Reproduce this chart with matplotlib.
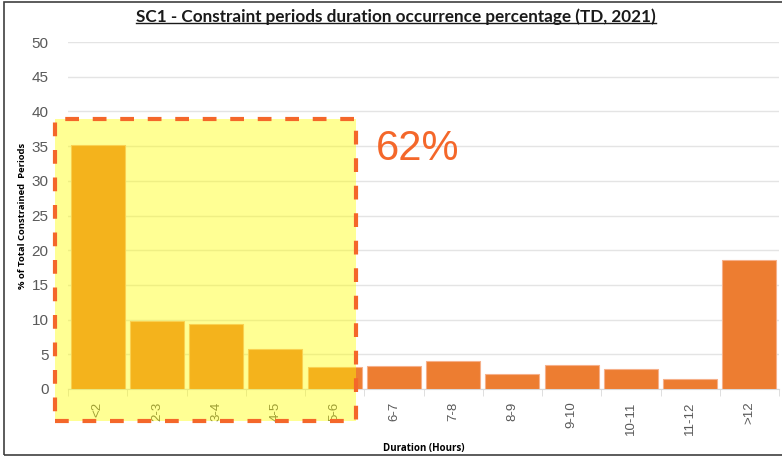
import matplotlib
matplotlib.use("Agg")
import matplotlib.pyplot as plt
import matplotlib.patches as mpatches
from matplotlib.lines import Line2D
import numpy as np

# データ
categories = ["<2", "2-3", "3-4", "4-5", "5-6", "6-7", "7-8", "8-9",
              "9-10", "10-11", "11-12", ">12"]
percent = [35.2, 9.8, 9.4, 5.8, 3.1, 3.3, 4.0, 2.2, 3.5, 2.9, 1.5, 18.6]
n_highlight = 5
highlight_label = "62%"

ORANGE = "#ED7D31"
DASH = "#F4672A"
GRID = "#E4E4E4"
TICK = "#595959"

fig = plt.figure(figsize=(7.82, 4.57), dpi=100)
fig.patch.set_facecolor("white")
ax = fig.add_axes([68 / 782, 68 / 457, 711 / 782, 347 / 457])

x = np.arange(len(categories))
ax.bar(x, percent, width=0.91, color=ORANGE, edgecolor="#F6B08A",
       linewidth=0.8, zorder=3)

ax.set_xlim(-0.5, len(categories) - 0.5)
ax.set_ylim(0, 50)
ax.set_yticks(np.arange(0, 51, 5))
ax.grid(axis="y", color=GRID, linewidth=1.0, zorder=0)
for s in ["top", "right", "left"]:
    ax.spines[s].set_visible(False)
ax.spines["bottom"].set_color("#D9D9D9")

ax.set_xticks(x)
ax.set_xticklabels(categories, rotation=90, fontsize=9.5, color=TICK,
                   family="Liberation Sans")
ax.set_xticks(np.arange(-0.5, len(categories), 1), minor=True)
ax.tick_params(axis="x", which="major", length=0, pad=9)
ax.tick_params(axis="x", which="minor", length=5, color="#D9D9D9")
ax.tick_params(axis="y", length=0, pad=14, labelsize=11, labelcolor=TICK)
for lab in ax.get_yticklabels():
    lab.set_family("Liberation Sans")

ax.set_ylabel("% of Total Constrained  Periods", fontsize=6.8,
              fontweight="bold", family="Open Sans")
ax.yaxis.set_label_coords(-41 / 711, 0.5)
ax.set_xlabel("Duration (Hours)", fontsize=7, fontweight="bold",
              family="Open Sans", labelpad=6)

# ハイライト枠
x0, x1 = -0.72, n_highlight - 0.64
y0, y1 = -4.6, 38.9
fill = mpatches.Rectangle((x0, y0), x1 - x0, y1 - y0, facecolor="#FFFF00",
                          alpha=0.42, edgecolor="none", zorder=6,
                          clip_on=False)
ax.add_patch(fill)
edge = mpatches.Rectangle((x0, y0), x1 - x0, y1 - y0, facecolor="none",
                          edgecolor=DASH, linewidth=3, linestyle=(0, (3.3, 3.3)),
                          zorder=7, clip_on=False)
ax.add_patch(edge)
ax.text(n_highlight - 0.3, 34.6, highlight_label, fontsize=30, color=DASH,
        family="Liberation Sans", va="center", ha="left", zorder=8)

# タイトル（下線付き）
title = fig.text(396 / 782, 1 - 17 / 457,
                 "SC1 - Constraint periods duration occurrence percentage (TD, 2021)",
                 ha="center", va="center", fontsize=12.3, fontweight="bold",
                 family="Lato", color="#1a1a1a")
fig.canvas.draw()
bb = title.get_window_extent().transformed(fig.transFigure.inverted())
fig.add_artist(Line2D([bb.x0, bb.x1], [bb.y0 + 0.004, bb.y0 + 0.004],
                      color="#1a1a1a", linewidth=1.0))

# 外枠
fig.add_artist(mpatches.Rectangle((4 / 782, 2 / 457), 1.0, 1 - 3.5 / 457,
                                  transform=fig.transFigure, fill=False,
                                  edgecolor="#404040", linewidth=1.2))

fig.savefig("out.png", dpi=100, facecolor="white")
